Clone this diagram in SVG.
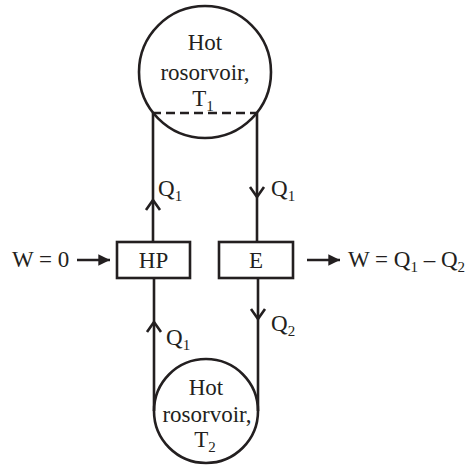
<svg xmlns="http://www.w3.org/2000/svg" width="469" height="465" viewBox="0 0 469 465">
<style>
.l{stroke:#231f20;stroke-width:2.6;fill:none}
.t{font-family:"Liberation Serif","Times New Roman",serif;font-size:23px;fill:#231f20}
.s{font-size:15px}
.c{text-anchor:middle}
</style>
<defs>
<marker id="ah" viewBox="0 0 10 10" refX="10" refY="5" markerWidth="5" markerHeight="4.5" orient="auto"><path d="M0,0 L10,5 L0,10 z" fill="#231f20"/></marker>
</defs>
<g id="hot1">
<circle class="l" cx="205" cy="72" r="66"/>
<text class="t c" x="205" y="50">Hot</text>
<text class="t c" x="205" y="80">rosorvoir,</text>
<text class="t c" x="203" y="106">T<tspan class="s" dy="5">1</tspan></text>
</g>
<g id="hot2">
<circle class="l" cx="206" cy="411" r="52"/>
<text class="t c" x="206" y="395">Hot</text>
<text class="t c" x="207" y="422">rosorvoir,</text>
<text class="t c" x="205" y="447">T<tspan class="s" dy="5">2</tspan></text>
</g>
<g id="HP">
<rect class="l" x="117" y="242" width="73" height="36"/>
<text class="t c" x="153.5" y="268">HP</text>
</g>
<g id="E">
<rect class="l" x="219" y="242" width="74" height="36"/>
<text class="t c" x="256" y="268">E</text>
</g>
<g id="connectors">
<line class="l" x1="152" y1="113" x2="258" y2="113" stroke-dasharray="9,5" stroke-width="3"/>
<line class="l" x1="153" y1="113" x2="153" y2="242"/>
<line class="l" x1="257" y1="113" x2="257" y2="242"/>
<line class="l" x1="154" y1="278" x2="154" y2="411"/>
<line class="l" x1="258" y1="278" x2="258" y2="411"/>
<polyline class="l" points="146,210 153,200 160,210"/>
<polyline class="l" points="250,187 257,197 264,187"/>
<polyline class="l" points="147,332 154,322 161,332"/>
<polyline class="l" points="251,309 258,319 265,309"/>
<line class="l" x1="77" y1="260" x2="110" y2="260" marker-end="url(#ah)"/>
<line class="l" x1="307" y1="260" x2="340" y2="260" marker-end="url(#ah)"/>
</g>
<g id="labels">
<text class="t" x="158" y="196">Q<tspan class="s" dy="5">1</tspan></text>
<text class="t" x="271" y="196">Q<tspan class="s" dy="5">1</tspan></text>
<text class="t" x="166" y="345">Q<tspan class="s" dy="5">1</tspan></text>
<text class="t" x="271" y="331">Q<tspan class="s" dy="5">2</tspan></text>
<text class="t" x="12" y="267">W = 0</text>
<text class="t" x="348" y="267">W = Q<tspan class="s" dy="5">1</tspan><tspan dy="-5"> – Q</tspan><tspan class="s" dy="5">2</tspan></text>
</g>
</svg>
